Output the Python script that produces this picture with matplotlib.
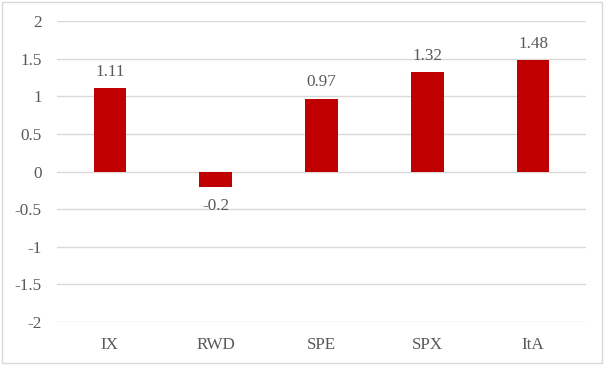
import matplotlib.pyplot as plt
from matplotlib.patches import Rectangle
import numpy as np

# ---- data ----
categories = ['IX', 'RWD', 'SPE', 'SPX', 'ItA']
values = [1.11, -0.2, 0.97, 1.32, 1.48]
y_ticks = [-2, -1.5, -1, -0.5, 0, 0.5, 1, 1.5, 2]

BAR_COLOR = '#C00000'
TEXT_COLOR = '#595959'
GRID_COLOR = '#D9D9D9'
FS = 12.3

plt.rcParams['font.family'] = ['Liberation Serif', 'DejaVu Serif']

fig = plt.figure(figsize=(6.04, 3.65), dpi=100)
ax = fig.add_axes([57 / 604, 1 - 322 / 365, 529 / 604, 301 / 365])

x = np.arange(len(categories))
ax.bar(x, values, width=0.31, color=BAR_COLOR, zorder=3)

# value labels: above positive bars, below negative ones
for xi, v in zip(x, values):
    if v >= 0:
        ax.annotate(f'{v:g}', (xi, v), xytext=(0, 6), textcoords='offset points',
                    ha='center', va='bottom', fontsize=FS, color=TEXT_COLOR)
    else:
        ax.annotate(f'{v:g}', (xi, v), xytext=(0, -8), textcoords='offset points',
                    ha='center', va='top', fontsize=FS, color=TEXT_COLOR)

ax.set_xlim(-0.5, len(categories) - 0.5)
ax.set_ylim(-2, 2)
ax.set_yticks(y_ticks)
ax.set_yticklabels([f'{t:g}' for t in y_ticks])
ax.set_xticks(x)
ax.set_xticklabels(categories)
ax.tick_params(axis='both', length=0, labelsize=FS, colors=TEXT_COLOR)
ax.tick_params(axis='y', pad=11)
ax.tick_params(axis='x', pad=11)

ax.grid(axis='y', color=GRID_COLOR, linewidth=1, zorder=0)
for s in ax.spines.values():
    s.set_visible(False)

# outer chart border
fig.patches.append(Rectangle((2 / 604, 2 / 365), 600 / 604, 361 / 365,
                             transform=fig.transFigure, fill=False,
                             edgecolor=GRID_COLOR, linewidth=1))

plt.savefig('out.png', dpi=100)
plt.close()
